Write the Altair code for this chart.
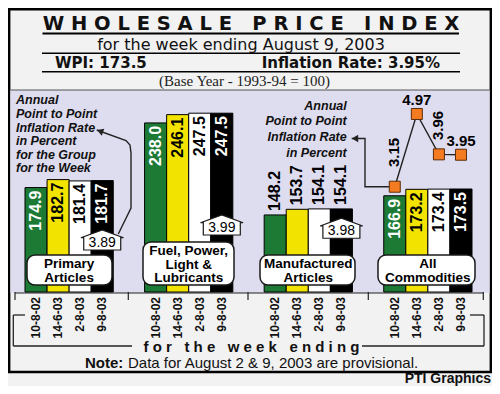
import altair as alt
import pandas as pd

# ---------------- data ----------------
GROUPS = ["Primary Articles", "Fuel, Power, Light & Lubricants",
          "Manufactured Articles", "All Commodities"]
GROUP_LINES = [["Primary", "Articles"], ["Fuel, Power,", "Light &", "Lubricants"],
               ["Manufactured", "Articles"], ["All", "Commodities"]]
WEEKS = ["10-8-02", "14-6-03", "2-8-03", "9-8-03"]
PRIMARY = [174.9, 182.7, 181.4, 181.7]
FUEL = [238.0, 246.1, 247.5, 247.5]
MANUF = [148.2, 153.7, 154.1, 154.1]
ALLCOM = [166.9, 173.2, 173.4, 173.5]
GROUP_INFL = [3.89, 3.99, 3.98]          # Primary, Fuel, Manufactured (week of 9-8-03)
ALL_INFL = [3.15, 4.97, 3.96, 3.95]      # All commodities, per week

TITLE = "WHOLESALE PRICE INDEX"
SUBTITLE = "for the week ending August 9, 2003"
WPI_TEXT = "WPI: 173.5"
RATE_TEXT = "Inflation Rate: 3.95%"
BASE_TEXT = "(Base Year - 1993-94 = 100)"
LEFT_NOTE = ["Annual", "Point to Point", "Inflation Rate", "in Percent",
             "for the Group", "for the Week"]
RIGHT_NOTE = ["Annual", "Point to Point", "Inflation Rate", "in Percent"]
AXIS_TITLE = "for the week ending"
NOTE_BOLD = "Note:"
NOTE_TEXT = "Data for August 2 & 9, 2003 are provisional."
CREDIT = "PTI Graphics"

# ---------------- style ----------------
W, H = 484, 378
BG = "#f2f2f2"
LAVENDER = "#dedcef"
BAR_COLORS = ["#1d7a35", "#f3e300", "#ffffff", "#000000"]
BAR_TEXT = ["#ffffff", "#000000", "#000000", "#ffffff"]
ORANGE = "#f47b20"
SANS = "Liberation Sans"
DJ = "DejaVu Sans"
LABEL_OUTSIDE = [False, False, True, False]
BOX_X0 = [19, 135, 252, 370]
BOX_X1 = [104, 226, 347, 467]
BOX_Y0 = [247, 234, 247, 247]
BOX_Y1 = [277, 277, 277, 277]
BOX_FONT = 13.5
BOX_LINE_H = 13.6
HOUSE_CY = [232.75, 217.75, 221.0]
HOUSE_PATH = "M-1,0.5 L-1,-0.165 L-1.15,-0.165 L0,-0.585 L1.15,-0.165 L1,-0.165 L1,0.5 Z"
INFL_ROT = [True, False, True, False]
INFL_GAP = [19.7, 9, 14.3, 9]
NB = "\u00a0"


def spaced(s, word_gap=3):
    return (NB * word_gap).join(NB.join(w) for w in s.split(" "))


x_group = alt.Scale(type="band", domain=GROUPS, range=[17, 464],
                    paddingInner=0.262, paddingOuter=0)
x_off = alt.Scale(type="band", domain=WEEKS, paddingInner=0, paddingOuter=0)
y_val = alt.Scale(domain=[73, 300], range=[284, 51.4], nice=False, zero=False)
x_week = alt.Scale(type="point", domain=WEEKS, range=[386.78, 452.97], padding=0)
y_infl = alt.Scale(domain=[3, 5], range=[184.7, 104.8], nice=False, zero=False)

XG = alt.X("group:N", scale=x_group, axis=None)
XO = alt.XOffset("week:N", scale=x_off)

one = alt.Data(values=[{"a": 1}])

# frame & backgrounds
frame = alt.Chart(one).mark_rect(fill=BG, stroke="black", strokeWidth=2.4).encode(
    x=alt.value(1.2), x2=alt.value(482.8), y=alt.value(1.2), y2=alt.value(364))
lav = alt.Chart(one).mark_rect(fill=LAVENDER).encode(
    x=alt.value(2.4), x2=alt.value(481.6), y=alt.value(82), y2=alt.value(285))

rule_rows = [
    (34.5, 451, 25.5, 25.5, 2.2, "#000000"),
    (34, 452, 45.3, 45.3, 1.5, "#000000"),
    (34, 452, 63.7, 63.7, 1.5, "#000000"),
    (2.4, 481.6, 82, 82, 1.2, "#555555"),
    (7, 475.3, 285, 285, 1.2, "#222222"),
    (5.3, 17, 307, 307, 1.3, "#222222"),
    (5.3, 5.3, 307, 338, 1.3, "#222222"),
    (5.3, 124, 338, 338, 1.3, "#222222"),
    (462, 476, 307, 307, 1.3, "#222222"),
    (476, 476, 307, 338, 1.3, "#222222"),
    (354, 476, 338, 338, 1.3, "#222222"),
]
for tx in [7, 120.3, 240, 360.3, 475.3]:
    rule_rows.append((tx, tx, 284, 292, 1.2, "#222222"))
rules_df = pd.DataFrame(rule_rows, columns=["x", "x2", "y", "y2", "w", "c"])
rules = alt.Chart(rules_df).mark_rule().encode(
    x=alt.X("x:Q", scale=None), x2="x2:Q",
    y=alt.Y("y:Q", scale=None), y2="y2:Q",
    strokeWidth=alt.StrokeWidth("w:Q", scale=None),
    color=alt.Color("c:N", scale=None))

# bars
rows = []
for g, vals, out in zip(GROUPS, [PRIMARY, FUEL, MANUF, ALLCOM], LABEL_OUTSIDE):
    for wk, v in zip(WEEKS, vals):
        rows.append({"group": g, "week": wk, "value": v, "outside": out})
bars_df = pd.DataFrame(rows)

bars = alt.Chart(bars_df).mark_bar(stroke="black", strokeWidth=1).encode(
    x=XG, xOffset=XO,
    y=alt.Y("value:Q", scale=y_val, axis=None), y2=alt.datum(73),
    fill=alt.Fill("week:N", scale=alt.Scale(domain=WEEKS, range=BAR_COLORS), legend=None))

lab_in = alt.Chart(bars_df).transform_filter("!datum.outside").mark_text(
    angle=270, align="right", baseline="middle", dx=-3, font=SANS, fontSize=16,
    fontWeight="bold").encode(
    x=XG, xOffset=XO, y=alt.Y("value:Q", scale=y_val, axis=None),
    text=alt.Text("value:Q", format=".1f"),
    color=alt.Color("week:N", scale=alt.Scale(domain=WEEKS, range=BAR_TEXT), legend=None))

lab_out = alt.Chart(bars_df).transform_filter("datum.outside").mark_text(
    angle=270, align="left", baseline="middle", dx=4, font=SANS, fontSize=16,
    fontWeight="bold", color="#000000").encode(
    x=XG, xOffset=XO, y=alt.Y("value:Q", scale=y_val, axis=None),
    text=alt.Text("value:Q", format=".1f"))

dates = alt.Chart(bars_df).mark_text(
    angle=270, align="right", baseline="middle", font=SANS, fontSize=12,
    fontWeight="bold", color="#111111").encode(
    x=XG, xOffset=XO, y=alt.value(289), text="week:N")

# group label boxes
box_df = pd.DataFrame({"group": GROUPS, "x0": BOX_X0, "x1": BOX_X1,
                       "y0": BOX_Y0, "y1": BOX_Y1})
boxes = alt.Chart(box_df).mark_rect(fill="white", stroke="#1a1a1a", strokeWidth=1.5,
                                    cornerRadius=8).encode(
    x=alt.X("x0:Q", scale=None), x2="x1:Q", y=alt.Y("y0:Q", scale=None), y2="y1:Q")
line_rows = []
for g, lines, y0, y1 in zip(GROUPS, GROUP_LINES, BOX_Y0, BOX_Y1):
    cy = (y0 + y1) / 2 + 1
    n = len(lines)
    for i, s in enumerate(lines):
        line_rows.append({"group": g, "t": s, "ly": cy + (i - (n - 1) / 2) * BOX_LINE_H})
box_text = alt.Chart(pd.DataFrame(line_rows)).mark_text(
    font=SANS, fontSize=BOX_FONT, fontWeight="bold", baseline="middle", align="center",
    color="#000000").encode(
    x=XG, y=alt.Y("ly:Q", scale=None), text="t:N")

# house-shaped group inflation boxes
house_df = pd.DataFrame({"group": GROUPS[:3], "week": [WEEKS[-1]] * 3,
                         "rate": GROUP_INFL, "cy": HOUSE_CY})
houses = alt.Chart(house_df).mark_point(
    shape=HOUSE_PATH, size=1369, filled=True, fill="white", stroke="#1a1a1a",
    strokeWidth=1.2, opacity=1).encode(
    x=XG, xOffset=XO, y=alt.Y("cy:Q", scale=None))
house_text = alt.Chart(house_df).mark_text(
    font=SANS, fontSize=14, baseline="middle", dy=2, color="#000000").encode(
    x=XG, xOffset=XO, y=alt.Y("cy:Q", scale=None),
    text=alt.Text("rate:Q", format=".2f"))

# overall inflation line
infl_df = pd.DataFrame({"week": WEEKS, "rate": ALL_INFL, "rot": INFL_ROT,
                        "gap": INFL_GAP, "idx": list(range(4))})
XW = alt.X("week:N", scale=x_week, axis=None)
infl_line = alt.Chart(infl_df).mark_line(color="#222222", strokeWidth=1.4).encode(
    x=XW, y=alt.Y("rate:Q", scale=y_infl, axis=None), order="idx:Q")
infl_pts = alt.Chart(infl_df).mark_square(
    size=121, fill=ORANGE, stroke="#5a2d0c", strokeWidth=1, opacity=1).encode(
    x=XW, y=alt.Y("rate:Q", scale=y_infl, axis=None))
infl_lab_rot = alt.Chart(infl_df).transform_filter("datum.rot").transform_calculate(
    ly="datum.rate + datum.gap / 39.95").mark_text(
    angle=270, align="left", baseline="middle", dy=-1, font=SANS, fontSize=15,
    fontWeight="bold", color="#000000").encode(
    x=XW, y=alt.Y("ly:Q", scale=y_infl, axis=None), text=alt.Text("rate:Q", format=".2f"))
infl_lab_h = alt.Chart(infl_df).transform_filter("!datum.rot").transform_calculate(
    ly="datum.rate + datum.gap / 39.95").mark_text(
    align="center", baseline="alphabetic", font=SANS, fontSize=15,
    fontWeight="bold", color="#000000").encode(
    x=XW, y=alt.Y("ly:Q", scale=y_infl, axis=None), text=alt.Text("rate:Q", format=".2f"))

# arrows
arrow_df = pd.DataFrame({
    "p": ["L"] * 6 + ["R"] * 4,
    "o": list(range(6)) + list(range(4)),
    "x": [88.7, 118, 122, 123, 123, 110.3, 343.7, 357, 357, 381],
    "y": [122, 132.5, 137, 145, 200, 226, 130.5, 130.5, 178.7, 178.7],
})
arrows = alt.Chart(arrow_df).mark_line(color="#222222", strokeWidth=1.4).encode(
    x=alt.X("x:Q", scale=None), y=alt.Y("y:Q", scale=None), detail="p:N", order="o:Q")
heads_df = pd.DataFrame({"x": [92, 347], "y": [123.2, 130.5], "a": [19.7, 0]})
heads = alt.Chart(heads_df).mark_point(shape="triangle-left", size=55, filled=True,
                                       color="#222222", opacity=1).encode(
    x=alt.X("x:Q", scale=None), y=alt.Y("y:Q", scale=None),
    angle=alt.Angle("a:Q", scale=None))


def text_layer(rows, **props):
    df = pd.DataFrame(rows, columns=["t", "x", "y"])
    return alt.Chart(df).mark_text(**props).encode(
        x=alt.X("x:Q", scale=None), y=alt.Y("y:Q", scale=None), text="t:N")


t_title = text_layer([(spaced(TITLE), 243, 22)], font=DJ, fontSize=19.5,
                     fontWeight="bold", align="center", baseline="alphabetic", color="#111111")
t_sub = text_layer([(SUBTITLE, 233, 42)], font=DJ, fontSize=16, align="center",
                   baseline="alphabetic", color="#111111")
t_wpi = text_layer([(WPI_TEXT, 47, 60.3)], font=DJ, fontSize=15, fontWeight="bold",
                   align="left", baseline="alphabetic", color="#111111")
t_rate = text_layer([(RATE_TEXT, 432, 60.3)], font=DJ, fontSize=15, fontWeight="bold",
                    align="right", baseline="alphabetic", color="#111111")
t_base = text_layer([(BASE_TEXT, 236.5, 78)], font="Liberation Serif", fontSize=15,
                    align="center", baseline="alphabetic", color="#222222")
t_left = text_layer([(s, 8, 92.3 + 13.6 * i) for i, s in enumerate(LEFT_NOTE)],
                    font=SANS, fontSize=12.5, fontWeight="bold", fontStyle="italic",
                    align="left", baseline="middle", color="#111111")
t_right = text_layer([(s, 338.7, y) for s, y in zip(RIGHT_NOTE, [97.7, 113, 129.3, 145.3])],
                     font=SANS, fontSize=12.5, fontWeight="bold", fontStyle="italic",
                     align="right", baseline="middle", color="#111111")
t_axis = text_layer([(spaced(AXIS_TITLE), 243.5, 338.7)], font=SANS, fontSize=15,
                    fontWeight="bold", align="center", baseline="middle", color="#111111")
t_note_b = text_layer([(NOTE_BOLD, 77, 360.3)], font=SANS, fontSize=15, fontWeight="bold",
                      align="left", baseline="alphabetic", color="#111111")
t_note = text_layer([(NOTE_TEXT, 120, 360.3)], font=SANS, fontSize=15,
                    align="left", baseline="alphabetic", color="#111111")
t_credit = text_layer([(CREDIT, 483, 375)], font=SANS, fontSize=14, fontWeight="bold",
                      align="right", baseline="alphabetic", color="#111111")

chart = alt.layer(
    frame, lav, rules, bars, lab_in, lab_out, dates, boxes, box_text,
    arrows, heads, houses, house_text, infl_line, infl_pts, infl_lab_rot, infl_lab_h,
    t_title, t_sub, t_wpi, t_rate, t_base, t_left, t_right, t_axis, t_note_b, t_note,
    t_credit,
).resolve_scale(
    x="independent", y="independent", color="independent", fill="independent",
    xOffset="independent", strokeWidth="independent", angle="independent",
).properties(
    width=W, height=H, padding=0, autosize=alt.AutoSizeParams(type="none"),
    background=BG,
).configure_view(stroke=None)

chart.save("out.html", embed_options={"renderer": "svg", "actions": False})
